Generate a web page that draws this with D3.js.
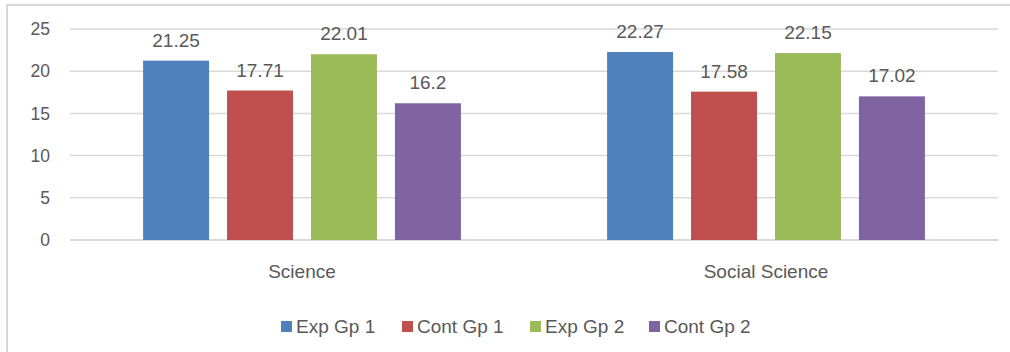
<!DOCTYPE html>
<html>
<head>
<meta charset="utf-8">
<script src="https://cdn.jsdelivr.net/npm/d3@7"></script>
<style>
  body { margin: 0; background: #fff; }
  text { font-family: "Liberation Sans", Arial, sans-serif; fill: #595959; }
</style>
</head>
<body>
<div id="chart"></div>
<script>
// Data
const categories = ['Science', 'Social Science'];
const series = ['Exp Gp 1', 'Cont Gp 1', 'Exp Gp 2', 'Cont Gp 2'];
const expGp1 = [21.25, 22.27];
const contGp1 = [17.71, 17.58];
const expGp2 = [22.01, 22.15];
const contGp2 = [16.2, 17.02];
const yTicks = [0, 5, 10, 15, 20, 25];
const colors = ['#4F81BD', '#C0504D', '#9BBB59', '#8064A2'];

const seriesValues = [expGp1, contGp1, expGp2, contGp2];

const width = 1010, height = 352;
const margin = { top: 29, right: 12, bottom: 112, left: 70 };
const plotW = width - margin.left - margin.right;
const plotH = height - margin.top - margin.bottom;

const svg = d3.select('#chart')
    .append('svg')
    .attr('width', width)
    .attr('height', height);

// chart frame (only top/left visible in the crop)
svg.append('path')
    .attr('d', `M7,${height} V5 H${width}`)
    .attr('fill', 'none')
    .attr('stroke', '#d9d9d9')
    .attr('stroke-width', 2);

const g = svg.append('g')
    .attr('transform', `translate(${margin.left}, ${margin.top})`);

// Scales
const x0 = d3.scaleBand()
    .domain(categories)
    .range([0, plotW])
    .paddingInner(0.315)
    .paddingOuter(0.1575);

const x1 = d3.scaleBand()
    .domain(series)
    .range([0, x0.bandwidth()])
    .paddingInner(0.214);

const y = d3.scaleLinear()
    .domain([0, 25])
    .range([plotH, 0]);

// Gridlines
g.selectAll('.grid')
    .data(yTicks)
    .join('line')
    .attr('x1', 0)
    .attr('x2', plotW)
    .attr('y1', d => y(d))
    .attr('y2', d => y(d))
    .attr('stroke', '#d9d9d9')
    .attr('stroke-width', d => d === 0 ? 2 : 1.5);

// Y tick labels
g.selectAll('.ytick')
    .data(yTicks)
    .join('text')
    .attr('x', -20)
    .attr('y', d => y(d))
    .attr('dy', '0.35em')
    .attr('text-anchor', 'end')
    .attr('font-size', 17.5)
    .text(d => d);

// Bars
const rows = categories.map((c, i) => ({
    cat: c,
    vals: series.map((s, j) => ({ key: s, value: seriesValues[j][i], color: colors[j] }))
}));

const groups = g.selectAll('.grp')
    .data(rows)
    .join('g')
    .attr('transform', d => `translate(${x0(d.cat)}, 0)`);

groups.selectAll('rect')
    .data(d => d.vals)
    .join('rect')
    .attr('x', d => x1(d.key))
    .attr('y', d => y(d.value))
    .attr('width', x1.bandwidth())
    .attr('height', d => y(0) - y(d.value))
    .attr('fill', d => d.color);

// Value labels
groups.selectAll('.val')
    .data(d => d.vals)
    .join('text')
    .attr('x', d => x1(d.key) + x1.bandwidth() / 2)
    .attr('y', d => y(d.value) - 14)
    .attr('text-anchor', 'middle')
    .attr('font-size', 19)
    .text(d => d.value);

// Category labels
g.selectAll('.cat')
    .data(categories)
    .join('text')
    .attr('x', d => x0(d) + x0.bandwidth() / 2)
    .attr('y', plotH + 38)
    .attr('text-anchor', 'middle')
    .attr('font-size', 19)
    .text(d => d);

// Legend
const legendX = [281, 402, 530, 649];
const legend = svg.selectAll('.legend')
    .data(series)
    .join('g')
    .attr('transform', (d, i) => `translate(${legendX[i]}, 321)`);

legend.append('rect')
    .attr('width', 11)
    .attr('height', 11)
    .attr('fill', (d, i) => colors[i]);

legend.append('text')
    .attr('x', 15)
    .attr('y', 11.5)
    .attr('font-size', 19)
    .text(d => d);
</script>
</body>
</html>
